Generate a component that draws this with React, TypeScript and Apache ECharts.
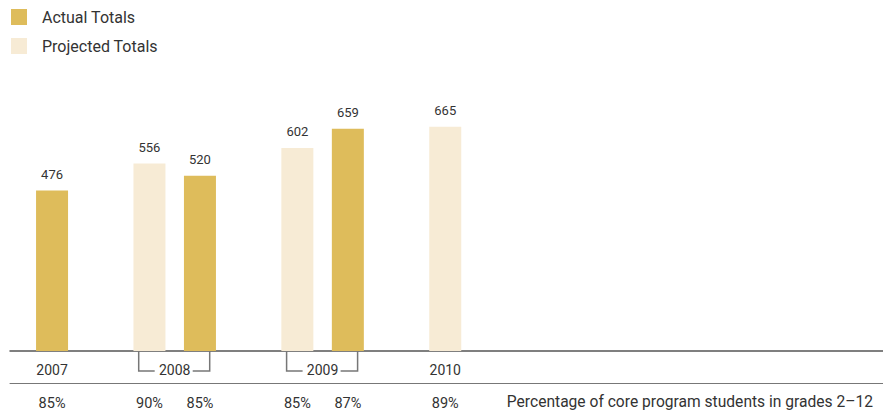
import React, { useEffect, useRef } from "react";
import * as echarts from "echarts";

// ---- data ----
const years = ["2007", "2008", "2009", "2010"];
const actualTotals: (number | null)[] = [476, 520, 659, null];
const projectedTotals: (number | null)[] = [null, 556, 602, 665];
const actualPct: (string | null)[] = ["85%", "85%", "87%", null];
const projectedPct: (string | null)[] = [null, "90%", "85%", "89%"];
const legendNames = ["Actual Totals", "Projected Totals"];
const footnote = "Percentage of core program students in grades 2\u201312";

// ---- layout / style ----
const W = 883;
const H = 418;
const GRID_LEFT = 10;
const GRID_TOP = 115;
const GRID_BOTTOM = 67;
const GROUP_PX = 147.9;
const FIRST_CENTER_PX = 26.8;
const BAR_OFFSET_PX = 25.25;
const BAR_W = 32;
const Y_MAX = 700;
const ACTUAL = "#DEBC5B";
const PROJECTED = "#F7EBD5";
const TEXT = "#333333";
const FONT = "Roboto, 'Noto Sans', sans-serif";

const xMin = (GRID_LEFT - FIRST_CENTER_PX) / GROUP_PX;
const xMax = (W - FIRST_CENTER_PX) / GROUP_PX;
const d = BAR_OFFSET_PX / GROUP_PX;

export default function App() {
  const ref = useRef<HTMLDivElement>(null);
  useEffect(() => {
    if (!ref.current) return;
    const chart = echarts.init(ref.current, null, { renderer: "svg" });

    const projData: number[][] = [];
    const actData: number[][] = [];
    const pctLabels: { x: number; t: string }[] = [];
    const yearLabels: { x: number; t: string }[] = [];
    const pairs: number[][] = [];
    years.forEach((y, i) => {
      const xs: number[] = [];
      if (projectedTotals[i] != null) {
        projData.push([i - d, projectedTotals[i] as number]);
        pctLabels.push({ x: i - d, t: projectedPct[i] as string });
        xs.push(i - d);
      }
      if (actualTotals[i] != null) {
        actData.push([i + d, actualTotals[i] as number]);
        pctLabels.push({ x: i + d, t: actualPct[i] as string });
        xs.push(i + d);
      }
      const c = xs.reduce((a, b) => a + b, 0) / xs.length;
      yearLabels.push({ x: c, t: y });
      if (xs.length === 2) pairs.push([c, 0]);
    });
    const lookup = (arr: { x: number; t: string }[]) => (v: number) => {
      let best = "";
      let bd = Infinity;
      arr.forEach((a) => {
        const dd = Math.abs(a.x - v);
        if (dd < bd) {
          bd = dd;
          best = a.t;
        }
      });
      return best;
    };

    const barLabel = {
      show: true,
      position: "top",
      distance: 10,
      fontSize: 13,
      color: TEXT,
      fontFamily: FONT,
      formatter: (p: any) => String(p.value[1]),
    };

    chart.setOption({
      animation: false,
      textStyle: { fontFamily: FONT },
      grid: { left: GRID_LEFT, right: 0, top: GRID_TOP, bottom: GRID_BOTTOM, containLabel: false },
      legend: {
        orient: "vertical",
        left: 11,
        top: 9,
        padding: 0,
        itemWidth: 16,
        itemHeight: 16,
        itemGap: 13,
        icon: "rect",
        data: legendNames,
        selectedMode: false,
        textStyle: { fontSize: 16, color: TEXT, fontFamily: FONT, padding: [0, 0, 0, 10] },
      },
      xAxis: [
        {
          type: "value",
          min: xMin,
          max: xMax,
          position: "bottom",
          splitLine: { show: false },
          axisTick: { show: false },
          axisLine: { show: true, lineStyle: { color: "#555555", width: 1.5 } },
          axisLabel: {
            customValues: yearLabels.map((l) => l.x),
            formatter: lookup(yearLabels),
            fontSize: 14,
            color: TEXT,
            margin: 12,
            fontFamily: FONT,
          },
        },
        {
          type: "value",
          min: xMin,
          max: xMax,
          position: "bottom",
          offset: 32,
          splitLine: { show: false },
          axisTick: { show: false },
          axisLine: { show: true, lineStyle: { color: "#777777", width: 1 } },
          axisLabel: {
            customValues: pctLabels.map((l) => l.x),
            formatter: lookup(pctLabels),
            fontSize: 14.5,
            color: TEXT,
            margin: 13,
            fontFamily: FONT,
          },
        },
      ],
      yAxis: { type: "value", min: 0, max: Y_MAX, show: false, splitLine: { show: false } },
      series: [
        {
          name: legendNames[1],
          type: "bar",
          data: projData,
          barWidth: BAR_W,
          itemStyle: { color: PROJECTED },
          label: barLabel,
        },
        {
          name: legendNames[0],
          type: "bar",
          data: actData,
          barWidth: BAR_W,
          barGap: "-100%",
          itemStyle: { color: ACTUAL },
          label: barLabel,
        },
        {
          type: "custom",
          silent: true,
          clip: false,
          data: pairs,
          encode: { x: 0, y: 1 },
          renderItem: (params: any, api: any) => {
            const p = api.coord([api.value(0), 0]);
            const cx = p[0];
            const y0 = p[1];
            const y1 = y0 + 20;
            const style = { stroke: "#777777", lineWidth: 1.5, fill: "none" };
            return {
              type: "group",
              children: [
                {
                  type: "polyline",
                  shape: { points: [[cx - 36, y0], [cx - 36, y1], [cx - 20, y1]] },
                  style,
                },
                {
                  type: "polyline",
                  shape: { points: [[cx + 18, y1], [cx + 35, y1], [cx + 35, y0]] },
                  style,
                },
              ],
            };
          },
        },
      ],
      graphic: [
        {
          type: "text",
          right: 10,
          top: 394,
          style: { text: footnote, fontSize: 15.6, fill: TEXT, fontFamily: FONT },
        },
      ],
    });
    return () => chart.dispose();
  }, []);
  return (
    <div
      ref={ref}
      style={{ position: "fixed", left: 0, top: 0, width: W, height: H, background: "#fff" }}
    />
  );
}
